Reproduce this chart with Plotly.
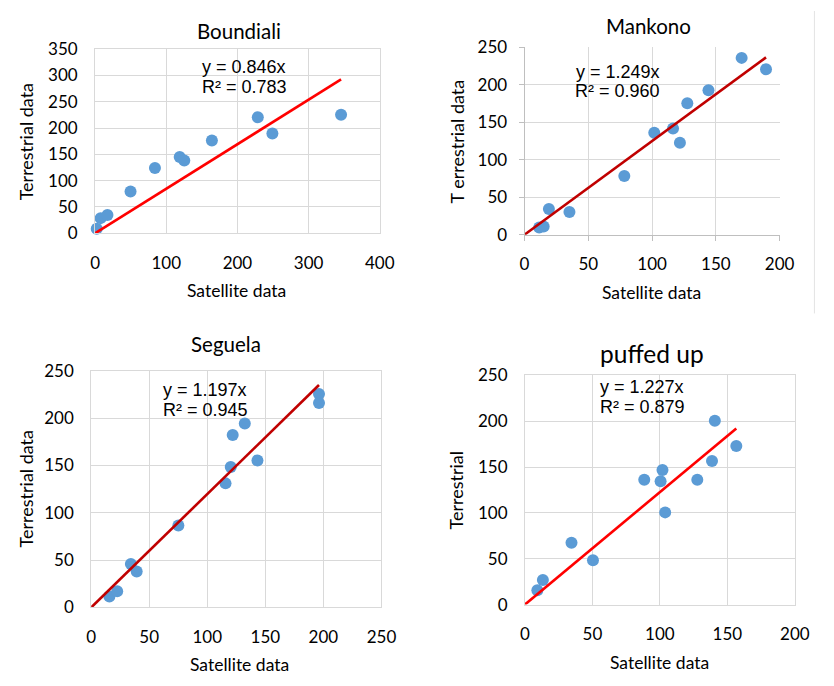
import plotly.graph_objects as go

W, H = 834, 686

# ---------------- data ----------------
titles = ["Boundiali", "Mankono", "Seguela", "puffed up"]

boundiali_x = [2.3, 7.8, 17.4, 49.8, 84.1, 118.9, 125.3, 164.1, 228.6, 249.1, 345.6]
boundiali_y = [8.6, 28.8, 34.9, 79.5, 124.2, 145.0, 138.3, 176.2, 220.3, 189.7, 225.2]

mankono_x = [11.5, 15.0, 19.1, 35.2, 78.2, 101.7, 116.4, 121.8, 127.6, 144.2, 170.2, 189.3]
mankono_y = [9.5, 10.8, 34.2, 30.3, 78.3, 135.8, 141.4, 122.4, 175.2, 192.5, 235.7, 220.6]

seguela_x = [15.7, 22.4, 34.2, 39.2, 75.1, 115.7, 120.2, 121.9, 132.3, 143.2, 196.2, 196.2]
seguela_y = [11.6, 17.1, 46.0, 37.9, 86.6, 131.0, 148.4, 182.1, 194.1, 155.2, 225.4, 215.9]

puffed_x = [9.2, 13.3, 34.5, 50.4, 88.4, 100.5, 101.9, 103.9, 127.7, 138.6, 140.7, 156.6]
puffed_y = [15.5, 26.8, 67.4, 48.4, 136.3, 134.5, 146.9, 100.6, 136.3, 156.8, 200.6, 173.0]

slopes = [0.846, 1.249, 1.197, 1.227]
r2 = [0.783, 0.960, 0.945, 0.879]

x_ranges = [[0, 400], [0, 200], [0, 250], [0, 200]]
y_ranges = [[0, 350], [0, 250], [0, 250], [0, 250]]
y_titles = ["Terrestrial data", "T errestrial data", "Terrestrial data", "Terrestrial"]
x_title = "Satellite data"

xs_all = [boundiali_x, mankono_x, seguela_x, puffed_x]
ys_all = [boundiali_y, mankono_y, seguela_y, puffed_y]

# ---------------- styling / layout ----------------
MARKER = "#5B9BD5"
LINE_COLORS = ["#FF0000", "#C00000", "#C00000", "#FF0000"]
GRID = "#D9D9D9"
TICKFONT = "Lato"
EQFONT = "Liberation Sans"

# plot-area boxes in pixels: left, right, top, bottom
boxes = [
    (92.3, 384.0, 39.3, 229.3),
    (532.3, 793.7, 37.3, 230.7),
    (88.3, 385.7, 371.0, 615.3),
    (532.7, 809.3, 376.0, 612.3),
]
title_pos = [(240, 21, 20.5), (659, 15, 20.5), (226, 344, 20.5), (663, 353, 24.5)]
ytitle_pos = [(21, 135), (462.7, 135), (21, 493), (461.7, 494)]
xtitle_pos = [(237, 288), (662, 290), (240, 674), (671, 672)]
eq_pos = [(245, 58, 78), (628, 63, 83), (205, 391, 412), (653, 388, 409)]


def px(x):
    return x / W


def py(y):
    return 1 - y / H


fig = go.Figure()
annotations = []

for i in range(4):
    ax = "" if i == 0 else str(i + 1)
    xs, ys = xs_all[i], ys_all[i]
    fig.add_trace(go.Scatter(
        x=xs, y=ys, mode="markers",
        marker=dict(color=MARKER, size=12),
        xaxis="x" + ax, yaxis="y" + ax, cliponaxis=False, showlegend=False,
    ))
    lx = [0, max(xs)]
    fig.add_trace(go.Scatter(
        x=lx, y=[slopes[i] * v for v in lx], mode="lines",
        line=dict(color=LINE_COLORS[i], width=2.6),
        xaxis="x" + ax, yaxis="y" + ax, cliponaxis=False, showlegend=False,
    ))
    l, r, t, b = boxes[i]
    has_ticks = (i == 1)
    common = dict(
        showgrid=True, gridcolor=GRID, gridwidth=1,
        showline=True, mirror=True, linecolor=GRID, linewidth=1,
        zeroline=False, tickfont=dict(family=TICKFONT, size=17, color="#000000"),
        ticks="outside" if has_ticks else "",
        ticklen=5 if has_ticks else 0,
        tickcolor="#BFBFBF",
        fixedrange=True,
    )
    xstep = 100 if i == 0 else 50
    fig.layout["xaxis" + ax] = dict(
        domain=[px(l), px(r)], range=x_ranges[i], dtick=xstep, tick0=0,
        anchor="y" + ax, ticklabelstandoff=14 if not has_ticks else 9,
        **common,
    )
    fig.layout["yaxis" + ax] = dict(
        domain=[py(b), py(t)], range=y_ranges[i], dtick=50, tick0=0,
        anchor="x" + ax, ticklabelstandoff=13 if not has_ticks else 8,
        **common,
    )
    if has_ticks:
        fig.layout["xaxis" + ax].linecolor = "#BFBFBF"
        fig.layout["yaxis" + ax].linecolor = "#BFBFBF"
        fig.layout["xaxis" + ax].mirror = False
        fig.layout["yaxis" + ax].mirror = False

    tx, ty, tsize = title_pos[i]
    annotations.append(dict(text=titles[i], x=px(tx), y=py(ty), xref="paper", yref="paper",
                            xanchor="center", yanchor="middle", showarrow=False,
                            font=dict(family=TICKFONT, size=tsize, color="#000000")))
    yx, yy = ytitle_pos[i]
    annotations.append(dict(text=y_titles[i], x=px(yx), y=py(yy), xref="paper", yref="paper",
                            xanchor="center", yanchor="middle", showarrow=False, textangle=-90,
                            font=dict(family=TICKFONT, size=18, color="#000000")))
    xx, xy = xtitle_pos[i]
    annotations.append(dict(text=x_title, x=px(xx), y=py(xy), xref="paper", yref="paper",
                            xanchor="center", yanchor="middle", showarrow=False,
                            font=dict(family=TICKFONT, size=17.5, color="#000000")))
    ex, ey1, ey2 = eq_pos[i]
    annotations.append(dict(text=f"y = {slopes[i]:.3f}x", x=px(ex), y=py(ey1), xref="paper", yref="paper",
                            xanchor="center", yanchor="middle", showarrow=False,
                            font=dict(family=EQFONT, size=18, color="#000000")))
    annotations.append(dict(text=f"R² = {r2[i]:.3f}", x=px(ex), y=py(ey2), xref="paper", yref="paper",
                            xanchor="center", yanchor="middle", showarrow=False,
                            font=dict(family=EQFONT, size=18, color="#000000")))

fig.update_layout(
    width=W, height=H,
    margin=dict(l=0, r=0, t=0, b=0),
    paper_bgcolor="#FFFFFF", plot_bgcolor="#FFFFFF",
    annotations=annotations,
    shapes=[dict(type="line", xref="paper", yref="paper",
                 x0=px(829.3), x1=px(829.3), y0=py(0), y1=py(312),
                 line=dict(color="#E3E3E3", width=1))],
    showlegend=False,
)

fig.write_html("out.html")
